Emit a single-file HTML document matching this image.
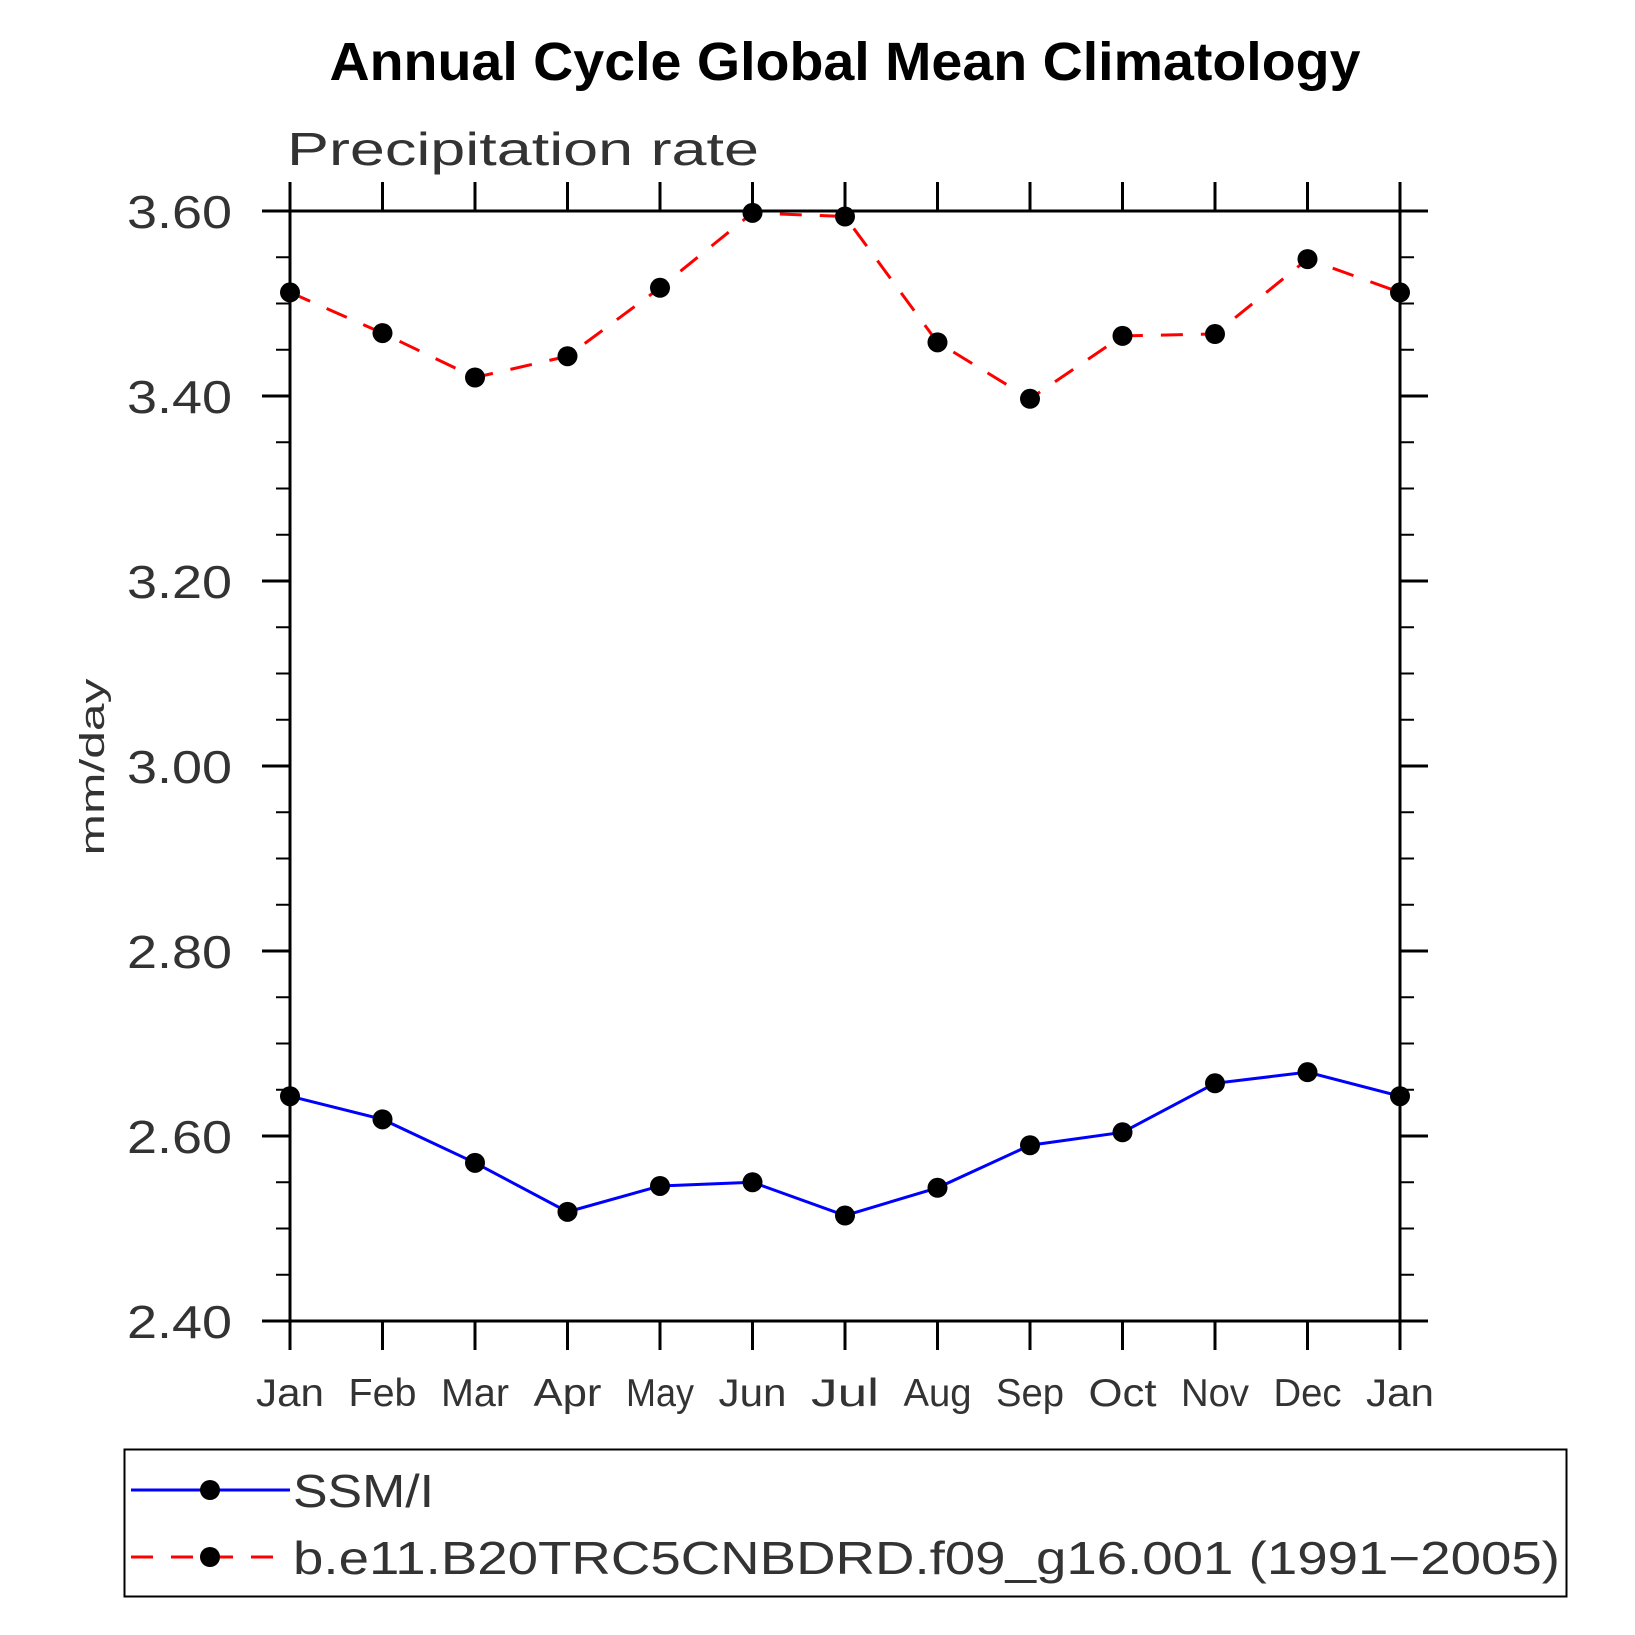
<!DOCTYPE html>
<html><head><meta charset="utf-8"><style>
html,body{margin:0;padding:0;background:#fff;}
svg{display:block;}
text{font-family:"Liberation Sans","DejaVu Sans",sans-serif;}
</style></head><body>
<svg id="chart" width="1635" height="1635" viewBox="0 0 1635 1635" xmlns="http://www.w3.org/2000/svg">
<text x="845" y="80" text-anchor="middle" font-size="54" font-weight="bold" textLength="1031" lengthAdjust="spacingAndGlyphs">Annual Cycle Global Mean Climatology</text>
<text x="287" y="165" font-size="46" fill="#333" textLength="472" lengthAdjust="spacingAndGlyphs">Precipitation rate</text>
<text transform="translate(104,767) rotate(-90)" text-anchor="middle" font-size="34" fill="#333" textLength="177" lengthAdjust="spacingAndGlyphs">mm/day</text>
<g id="axes"></g>
<g id="series"></g>
<g>
<rect x="124.5" y="1449.5" width="1442" height="147" fill="none" stroke="#000" stroke-width="2"/>
<g>
<line x1="131" y1="1490" x2="290" y2="1490" stroke="#0000ff" stroke-width="3"/>
<circle cx="210" cy="1490" r="10" fill="#000"/>
<text x="293" y="1507" font-size="46" fill="#333" textLength="141" lengthAdjust="spacingAndGlyphs">SSM/I</text>
</g>
<g>
<line x1="131" y1="1557" x2="290" y2="1557" stroke="#ff0000" stroke-width="3" stroke-dasharray="22,18"/>
<circle cx="210" cy="1557" r="10" fill="#000"/>
<text x="293" y="1574" font-size="46" fill="#333" textLength="1267" lengthAdjust="spacingAndGlyphs">b.e11.B20TRC5CNBDRD.f09_g16.001 (1991−2005)</text>
</g>
</g>
</svg>
<script>
const months = ["Jan","Feb","Mar","Apr","May","Jun","Jul","Aug","Sep","Oct","Nov","Dec","Jan"];
const ssmiValues = [2.643,2.618,2.571,2.518,2.546,2.550,2.514,2.544,2.590,2.604,2.657,2.669,2.643];
const modelValues = [3.512,3.468,3.420,3.443,3.517,3.598,3.594,3.458,3.397,3.465,3.467,3.548,3.512];
const yTicks = [2.40,2.60,2.80,3.00,3.20,3.40,3.60];
const yTickLabels = ["2.40","2.60","2.80","3.00","3.20","3.40","3.60"];

const L=290,R=1400,T=211,B=1321,yMin=2.4,yMax=3.6;
const xs=i=>L+(R-L)*i/(months.length-1);
const ys=v=>B-(v-yMin)/(yMax-yMin)*(B-T);
const NS="http://www.w3.org/2000/svg";
function mk(tag,attrs,parent){const e=document.createElementNS(NS,tag);for(const k in attrs)e.setAttribute(k,attrs[k]);parent.appendChild(e);return e;}
const ax=document.getElementById('axes');
const frame=mk('rect',{x:L,y:T,width:R-L,height:B-T,fill:'none',stroke:'#000','stroke-width':3},ax);


months.forEach((m,i)=>{
  const x=xs(i);
  mk('line',{x1:x,y1:B,x2:x,y2:B+29,stroke:'#000','stroke-width':3},ax);
  mk('line',{x1:x,y1:T,x2:x,y2:T-29,stroke:'#000','stroke-width':3},ax);
  const t=mk('text',{x:x,y:1406,'text-anchor':'middle','font-size':39,fill:'#333',textLength:68,lengthAdjust:'spacingAndGlyphs'},ax);
  t.textContent=m;
  
  
});
yTicks.forEach((v,i)=>{
  const y=ys(v);
  mk('line',{x1:L,y1:y,x2:L-28,y2:y,stroke:'#000','stroke-width':3},ax);
  mk('line',{x1:R,y1:y,x2:R+28,y2:y,stroke:'#000','stroke-width':3},ax);
  const t=mk('text',{x:232,y:y+17,'text-anchor':'end','font-size':46,fill:'#333',textLength:105,lengthAdjust:'spacingAndGlyphs'},ax);
  t.textContent=yTickLabels[i];
  
  
  if(i<yTicks.length-1){
    for(let k=1;k<4;k++){
      const yy=ys(v+0.05*k);
      mk('line',{x1:L,y1:yy,x2:L-14,y2:yy,stroke:'#000','stroke-width':2},ax);
      mk('line',{x1:R,y1:yy,x2:R+14,y2:yy,stroke:'#000','stroke-width':2},ax);
    }
  }
});
const sg=document.getElementById('series');
function drawSeries(vals,color,dash,name){
  const g=mk('g',{},sg);
  
  
  const pts=vals.map((v,i)=>xs(i)+','+ys(v)).join(' ');
  const pl=mk('polyline',{points:pts,fill:'none',stroke:color,'stroke-width':3},g);
  if(dash)pl.setAttribute('stroke-dasharray',dash);
  vals.forEach((v,i)=>{
    const c=mk('circle',{cx:xs(i),cy:ys(v),r:10,fill:'#000'},g);
    
    
  });
}
drawSeries(ssmiValues,'#0000ff',null,'ssmi-series');
drawSeries(modelValues,'#ff0000','22,18','model-series');
</script>
</body></html>
